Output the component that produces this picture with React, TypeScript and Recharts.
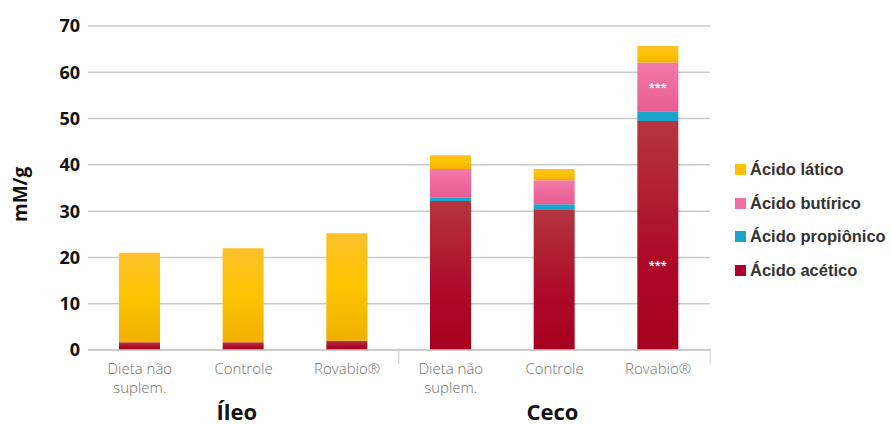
import { BarChart, Bar, XAxis, YAxis, CartesianGrid, LabelList } from 'recharts';

const categories = ['Dieta não|suplem.', 'Controle', 'Rovabio®', 'Dieta não|suplem.', 'Controle', 'Rovabio®'];
const groups = ['Íleo', '', '', '', 'Ceco', ''];
const acetico = [1.7, 1.7, 2.0, 32.2, 30.4, 49.5];
const propionico = [0, 0, 0, 0.8, 1.1, 2.1];
const butirico = [0, 0, 0, 6.1, 5.2, 10.5];
const latico = [19.3, 20.3, 23.2, 3.0, 2.4, 3.6];
const sigAcetico = ['', '', '', '', '', '***'];
const sigButirico = ['', '', '', '', '', '***'];
const yTicks = [0, 10, 20, 30, 40, 50, 60, 70];

const data = categories.map((name, i) => ({
    name,
    group: groups[i],
    acetico: acetico[i],
    propionico: propionico[i],
    butirico: butirico[i],
    latico: latico[i],
    sigAcetico: sigAcetico[i],
    sigButirico: sigButirico[i],
}));

const series = [
    { key: 'latico', name: 'Ácido lático', fill: '#fbc100' },
    { key: 'butirico', name: 'Ácido butírico', fill: '#ee6fa2' },
    { key: 'propionico', name: 'Ácido propiônico', fill: '#1aa6cc' },
    { key: 'acetico', name: 'Ácido acético', fill: '#b0002a' },
];

const CategoryTick = (props: any) => {
    const { x, y, payload, index } = props;
    const lines = String(payload.value).split('|');
    const group = groups[index];
    return (
        <g>
            {lines.map((l, i) => (
                <text key={i} x={x} y={y + 16 + i * 19} textAnchor="middle" fill="#707070" fontSize={15}
                    fontFamily="Open Sans" fontWeight={300}>{l}</text>
            ))}
            {index === 3 && <line x1={x - 52} x2={x - 52} y1={y - 10} y2={y + 6} stroke="#ccc" />}
            {index === 5 && <line x1={x + 52} x2={x + 52} y1={y - 10} y2={y + 6} stroke="#ccc" />}
            {group && (
                <text x={index === 0 ? x + 97 : x - 2} y={y + 62} textAnchor="middle" fill="#111" fontSize={22}
                    fontFamily="Open Sans" fontWeight={700}>{group}</text>
            )}
        </g>
    );
};

const SigLabel = (props: any) => {
    const { x, y, width, height, value, shift = 0 } = props;
    if (!value) return null;
    return (
        <text x={x + width / 2} y={y + height / 2 + 4 + shift} textAnchor="middle" fill="#fff" fontSize={11}
            fontFamily="Open Sans" fontWeight={700}>{value}</text>
    );
};

export default function App() {
    return (
        <div style={{ position: 'absolute', left: 0, top: 0, width: 891, height: 424, overflow: 'hidden', background: '#fff' }}>
            <BarChart width={891} height={424} data={data} barSize={41}
                margin={{ top: 26, right: 181, bottom: 0, left: 14 }}>
                <defs>
                    <linearGradient id="gAcetico" x1="0" y1="0" x2="0" y2="1">
                        <stop offset="0%" stopColor="#b5353f" />
                        <stop offset="60%" stopColor="#ad0a28" />
                        <stop offset="100%" stopColor="#a8001f" />
                    </linearGradient>
                    <linearGradient id="gLatico" x1="0" y1="0" x2="0" y2="1">
                        <stop offset="0%" stopColor="#fdbf2a" />
                        <stop offset="50%" stopColor="#fcc400" />
                        <stop offset="100%" stopColor="#f2b000" />
                    </linearGradient>
                    <linearGradient id="gButirico" x1="0" y1="0" x2="0" y2="1">
                        <stop offset="0%" stopColor="#f27aa8" />
                        <stop offset="100%" stopColor="#e95c93" />
                    </linearGradient>
                </defs>
                <CartesianGrid vertical={false} stroke="#c9c9c9" strokeWidth={1.5} />
                <XAxis dataKey="name" interval={0} axisLine={{ stroke: '#c9c9c9', strokeWidth: 1.5 }} tickLine={false}
                    height={74} tick={<CategoryTick />} />
                <YAxis domain={[0, 70]} ticks={yTicks} axisLine={false} tickLine={false} width={74}
                    tick={{ fill: '#111', fontSize: 18, fontFamily: 'Open Sans', fontWeight: 700 }}
                    label={{ value: 'mM/g', angle: -90, position: 'insideLeft', offset: 6, dy: 34,
                        style: { fill: '#111', fontSize: 19, fontFamily: 'Open Sans', fontWeight: 700 } }} />
                <Bar dataKey="acetico" stackId="a" fill="url(#gAcetico)" isAnimationActive={false}>
                    <LabelList dataKey="sigAcetico" content={<SigLabel shift={30} />} />
                </Bar>
                <Bar dataKey="propionico" stackId="a" fill="#1aa6cc" isAnimationActive={false} />
                <Bar dataKey="butirico" stackId="a" fill="url(#gButirico)" isAnimationActive={false}>
                    <LabelList dataKey="sigButirico" content={<SigLabel />} />
                </Bar>
                <Bar dataKey="latico" stackId="a" fill="url(#gLatico)" isAnimationActive={false} />
            </BarChart>
            <div style={{ position: 'absolute', left: 735, top: 153, fontFamily: 'Liberation Sans, Arial', fontWeight: 700, fontSize: 16.5, color: '#333' }}>
                {series.map(s => (
                    <div key={s.key} style={{ display: 'flex', alignItems: 'center', height: 33.5, whiteSpace: 'nowrap' }}>
                        <div style={{ width: 11, height: 11, background: s.fill, marginRight: 4 }} />
                        <span>{s.name}</span>
                    </div>
                ))}
            </div>
        </div>
    );
}
